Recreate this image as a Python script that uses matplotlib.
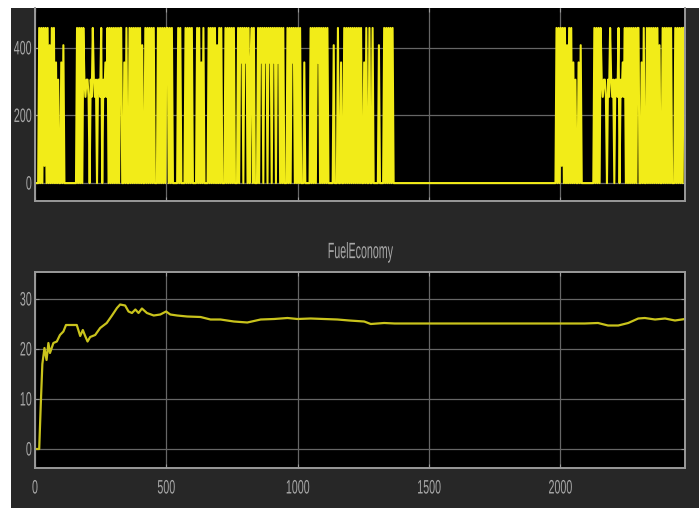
import numpy as np
import matplotlib
matplotlib.use('Agg')
import matplotlib.pyplot as plt
from matplotlib.patches import Rectangle
from matplotlib.patheffects import AbstractPathEffect
from matplotlib.transforms import Affine2D


# top trace: one char every 4 s, value = char * 51
phase1 = ("0000" "9090919090809090" "7060070800" "0000000000" "9090909"
          "6566506596560665906575" "9090909090909" "90070900" "909090909090"
          "800" "909090909" "000" "909090909")
phase2 = ("909090" "0000" "9090" "000" "90909090" "000" "90907090" "000"
          "9090909080909" "000" "9090909090" "00" "90979097909079090" "00"
          "9097909790979097909790" "909" "000" "90909790909090" "00700000"
          "909090979090909090" "000" "08000900700" "9090909090909090"
          "9007090090090" "000080000" "9090909090")
step = 4
scale = 51
phase2_start = 505
soak_t = [1369, 1969]
phase3_start = 1969
t_end = 2474

# FuelEconomy
fe_t = [0, 16, 22, 28, 36, 44, 51, 57, 70, 83, 95, 108, 118, 134, 159, 165, 172,
        182, 191, 200, 210, 229, 248, 273, 293, 312, 324, 343, 356, 369, 382, 394,
        407, 426, 452, 477, 499, 515, 541, 579, 630, 668, 706, 757, 808, 859, 910,
        961, 999, 1049, 1100, 1151, 1196, 1253, 1278, 1329, 1369, 1969, 2029, 2092,
        2143, 2181, 2220, 2258, 2296, 2321, 2360, 2398, 2436, 2474]
fe_v = [0, 0, 9, 17, 20.2, 17.8, 21.2, 19.2, 21.2, 21.5, 22.8, 23.5, 24.8, 24.8,
        24.8, 23.8, 22.6, 23.8, 22.6, 21.5, 22.4, 22.8, 24.2, 25.2, 26.7, 28.2, 28.9,
        28.7, 27.5, 27.2, 27.9, 27.2, 28.1, 27.2, 26.7, 26.9, 27.5, 26.9, 26.7, 26.5,
        26.4, 25.9, 25.9, 25.5, 25.3, 25.9, 26.0, 26.2, 26.0, 26.1, 26.0, 25.9, 25.7,
        25.5, 25.0, 25.2, 25.1, 25.1, 25.1, 25.1, 25.2, 24.7, 24.7, 25.2, 26.1, 26.2,
        25.9, 26.1, 25.7, 26.0]

xticks = [0, 500, 1000, 1500, 2000]
top_yticks = [0, 200, 400]
bot_yticks = [0, 10, 20, 30]
title = 'FuelEconomy'

bg = '#272727'
txt = '#a8a8a8'
grid_c = '#666666'
spine_c = '#9a9a9a'


def decode(s, t0):
    t = t0 + step * np.arange(len(s))
    v = np.array([int(c) for c in s]) * scale
    return t, v


# squeeze text horizontally (scope font is very narrow)
class Squeeze(AbstractPathEffect):
    def __init__(self, sx, anchor='center'):
        super().__init__()
        self.sx = sx
        self.anchor = anchor

    def draw_path(self, renderer, gc, tpath, affine, rgbFace=None):
        ext = tpath.get_extents(affine)
        cx = ext.x1 if self.anchor == 'right' else (ext.x0 + ext.x1) / 2
        aff = affine + Affine2D().translate(-cx, 0).scale(self.sx, 1).translate(cx, 0)
        renderer.draw_path(gc, tpath, aff, rgbFace)


t1, v1 = decode(phase1, 0)
t2, v2 = decode(phase2, phase2_start)
t3, v3 = decode(phase1, phase3_start)
pt = np.concatenate([t1, t2, soak_t, t3])
pv = np.concatenate([v1, v2, [0, 0], v3])

plt.rcParams['font.family'] = ['Liberation Sans', 'DejaVu Sans']

W, H = 699, 508
fig = plt.figure(figsize=(W / 100, H / 100), dpi=100, facecolor='white')
fig.add_artist(Rectangle((11 / W, 0), 1, (H - 8) / H, transform=fig.transFigure,
                         facecolor=bg, edgecolor='none', zorder=-10))

ax1 = fig.add_axes([35 / W, (H - 201) / H, 650 / W, 193 / H])
ax2 = fig.add_axes([35 / W, (H - 468) / H, 650 / W, 196 / H])


def style(ax, yticks):
    ax.set_facecolor('black')
    ax.set_xlim(0, t_end)
    ax.set_xticks(xticks)
    ax.set_yticks(yticks)
    ax.grid(True, color=grid_c, lw=0.9)
    ax.set_axisbelow(True)
    for s in ax.spines.values():
        s.set_color(spine_c)
        s.set_linewidth(1.4)
    ax.tick_params(direction='in', length=3, color=spine_c, labelcolor=txt,
                   labelsize=14, right=True, top=True)
    ax.tick_params(axis='y', pad=2)
    ax.tick_params(axis='x', pad=9)
    for lbl in ax.get_yticklabels():
        lbl.set_path_effects([Squeeze(0.55, 'right')])
    for lbl in ax.get_xticklabels():
        lbl.set_path_effects([Squeeze(0.55)])


style(ax1, top_yticks)
ax1.plot(pt, pv, color='#f2ec18', lw=1.5)
ax1.set_ylim(-53, 518)
ax1.set_xticklabels([])
ax1.spines['top'].set_visible(False)

style(ax2, bot_yticks)
ax2.plot(fe_t, fe_v, color='#c9c31c', lw=1.6)
ax2.set_ylim(-3.8, 35.4)
tt = ax2.set_title(title, color=txt, fontsize=16, pad=10)
tt.set_path_effects([Squeeze(0.48)])

fig.savefig('out.png', dpi=100, facecolor=fig.get_facecolor())
